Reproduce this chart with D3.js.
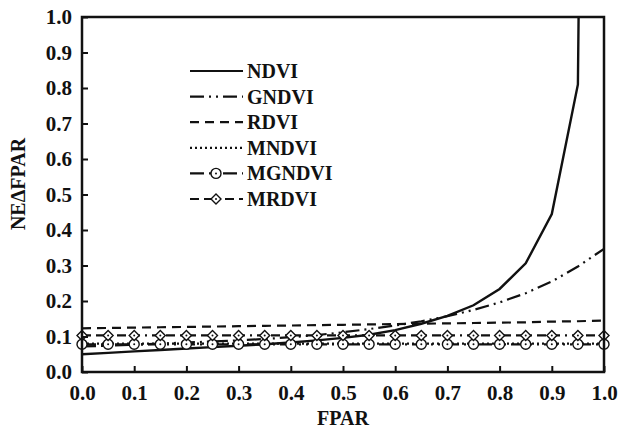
<!DOCTYPE html>
<html>
<head>
<meta charset="utf-8">
<script src="https://cdn.jsdelivr.net/npm/d3@7"></script>
<style>
  body { margin: 0; background: #fff; }
  svg text { font-family: "Liberation Serif", "Times New Roman", serif; font-weight: bold; fill: #111; }
</style>
</head>
<body>
<div id="chart-area"></div>
<script>
const fpar = [0, 0.05, 0.1, 0.15, 0.2, 0.25, 0.3, 0.35, 0.4, 0.45, 0.5, 0.55, 0.6, 0.65, 0.7, 0.75, 0.8, 0.85, 0.9, 0.95, 1.0]

const ndvi = [0.050, 0.054, 0.058, 0.062, 0.066, 0.070, 0.074, 0.078, 0.083, 0.089, 0.096, 0.105, 0.118, 0.136, 0.158, 0.188, 0.234, 0.306, 0.445, 0.81, 8]
const gndvi = [0.072, 0.074, 0.077, 0.080, 0.083, 0.086, 0.089, 0.093, 0.098, 0.104, 0.112, 0.121, 0.131, 0.143, 0.157, 0.175, 0.196, 0.222, 0.255, 0.297, 0.347]
const rdvi = [0.123, 0.124, 0.125, 0.126, 0.127, 0.128, 0.129, 0.130, 0.131, 0.132, 0.133, 0.134, 0.135, 0.136, 0.137, 0.138, 0.139, 0.140, 0.142, 0.143, 0.145]
const mndvi = [0.080, 0.080, 0.080, 0.080, 0.080, 0.080, 0.080, 0.080, 0.080, 0.080, 0.080, 0.080, 0.080, 0.080, 0.080, 0.080, 0.080, 0.080, 0.080, 0.080, 0.080]
const mgndvi = [0.078, 0.078, 0.078, 0.078, 0.078, 0.078, 0.078, 0.078, 0.078, 0.078, 0.078, 0.078, 0.078, 0.078, 0.078, 0.078, 0.078, 0.078, 0.078, 0.078, 0.078]
const mrdvi = [0.103, 0.103, 0.103, 0.103, 0.103, 0.103, 0.103, 0.103, 0.103, 0.103, 0.103, 0.103, 0.103, 0.103, 0.103, 0.103, 0.103, 0.103, 0.103, 0.103, 0.103]

const seriesNames = ["NDVI", "GNDVI", "RDVI", "MNDVI", "MGNDVI", "MRDVI"]
const seriesValues = [ndvi, gndvi, rdvi, mndvi, mgndvi, mrdvi]
const dashes = ["none", "14,5,2,5,2,5", "9,6", "2,3", "14,5,2,5,2,5", "9,5,9,5,2,5"]
const markers = [null, null, null, null, "circle", "diamond"]

const xTicks = [0, 0.1, 0.2, 0.3, 0.4, 0.5, 0.6, 0.7, 0.8, 0.9, 1.0]
const yTicks = [0, 0.1, 0.2, 0.3, 0.4, 0.5, 0.6, 0.7, 0.8, 0.9, 1.0]

const w = 618
const h = 430
const mLeft = 82, mRight = 604, mTop = 17, mBottom = 372

const svg = d3.select("#chart-area")
  .append("svg")
  .attr("width", w)
  .attr("height", h)

const x = d3.scaleLinear().domain([0, 1]).range([mLeft, mRight])
const y = d3.scaleLinear().domain([0, 1]).range([mBottom, mTop])

svg.append("clipPath")
  .attr("id", "plot-clip")
  .append("rect")
  .attr("x", mLeft)
  .attr("y", mTop)
  .attr("width", mRight - mLeft)
  .attr("height", mBottom - mTop)

const line = d3.line()
  .x((d) => x(d[0]))
  .y((d) => y(d[1]))

const plot = svg.append("g").attr("clip-path", "url(#plot-clip)")

seriesValues.forEach((vals, i) => {
  plot.append("path")
    .datum(fpar.map((f, j) => [f, vals[j]]))
    .attr("d", line)
    .attr("fill", "none")
    .attr("stroke", "#111")
    .attr("stroke-width", i == 0 ? 2.4 : 2.2)
    .attr("stroke-dasharray", dashes[i])
})

function drawMarker(g, kind, cx, cy) {
  if (kind == "circle") {
    g.append("circle")
      .attr("cx", cx).attr("cy", cy).attr("r", 5)
      .attr("fill", "#fff").attr("stroke", "#111").attr("stroke-width", 1.4)
    g.append("circle")
      .attr("cx", cx).attr("cy", cy).attr("r", 1)
      .attr("fill", "#111")
  } else if (kind == "diamond") {
    g.append("path")
      .attr("d", `M${cx},${cy - 5}L${cx + 5},${cy}L${cx},${cy + 5}L${cx - 5},${cy}Z`)
      .attr("fill", "#fff").attr("stroke", "#111").attr("stroke-width", 1.4)
    g.append("circle")
      .attr("cx", cx).attr("cy", cy).attr("r", 1)
      .attr("fill", "#111")
  }
}

seriesValues.forEach((vals, i) => {
  if (!markers[i]) return
  fpar.forEach((f, j) => drawMarker(svg, markers[i], x(f), y(vals[j])))
})

// frame
svg.append("rect")
  .attr("x", mLeft)
  .attr("y", mTop)
  .attr("width", mRight - mLeft)
  .attr("height", mBottom - mTop)
  .attr("fill", "none")
  .attr("stroke", "#111")
  .attr("stroke-width", 2.5)

const xAxis = d3.axisBottom(x)
  .tickValues(xTicks)
  .tickSizeInner(-6)
  .tickSizeOuter(0)
  .tickPadding(13)
  .tickFormat(d3.format(".1f"))

const yAxis = d3.axisLeft(y)
  .tickValues(yTicks)
  .tickSizeInner(-6)
  .tickSizeOuter(0)
  .tickPadding(10)
  .tickFormat(d3.format(".1f"))

const gx = svg.append("g")
  .attr("transform", `translate(0,${mBottom})`)
  .call(xAxis)
gx.select(".domain").remove()
gx.selectAll("line").attr("stroke", "#111").attr("stroke-width", 2)
gx.selectAll("text").style("font-size", "21px")

const gy = svg.append("g")
  .attr("transform", `translate(${mLeft},0)`)
  .call(yAxis)
gy.select(".domain").remove()
gy.selectAll("line").attr("stroke", "#111").attr("stroke-width", 2)
gy.selectAll("text").style("font-size", "21px")

svg.append("text")
  .attr("x", (mLeft + mRight) / 2)
  .attr("y", 425)
  .attr("text-anchor", "middle")
  .style("font-size", "20px")
  .text("FPAR")

svg.append("text")
  .attr("transform", "translate(25,184) rotate(-90)")
  .attr("text-anchor", "middle")
  .style("font-size", "20px")
  .text("NEΔFPAR")

// legend
const legend = svg.append("g")
seriesNames.forEach((name, i) => {
  const ly = 71 + i * 25.6
  legend.append("line")
    .attr("x1", 190).attr("x2", 243)
    .attr("y1", ly).attr("y2", ly)
    .attr("stroke", "#111")
    .attr("stroke-width", 2.2)
    .attr("stroke-dasharray", dashes[i])
  if (markers[i]) drawMarker(legend, markers[i], 216, ly)
  legend.append("text")
    .attr("x", 247)
    .attr("y", ly + 7)
    .style("font-size", "20px")
    .text(name)
})
</script>
</body>
</html>
